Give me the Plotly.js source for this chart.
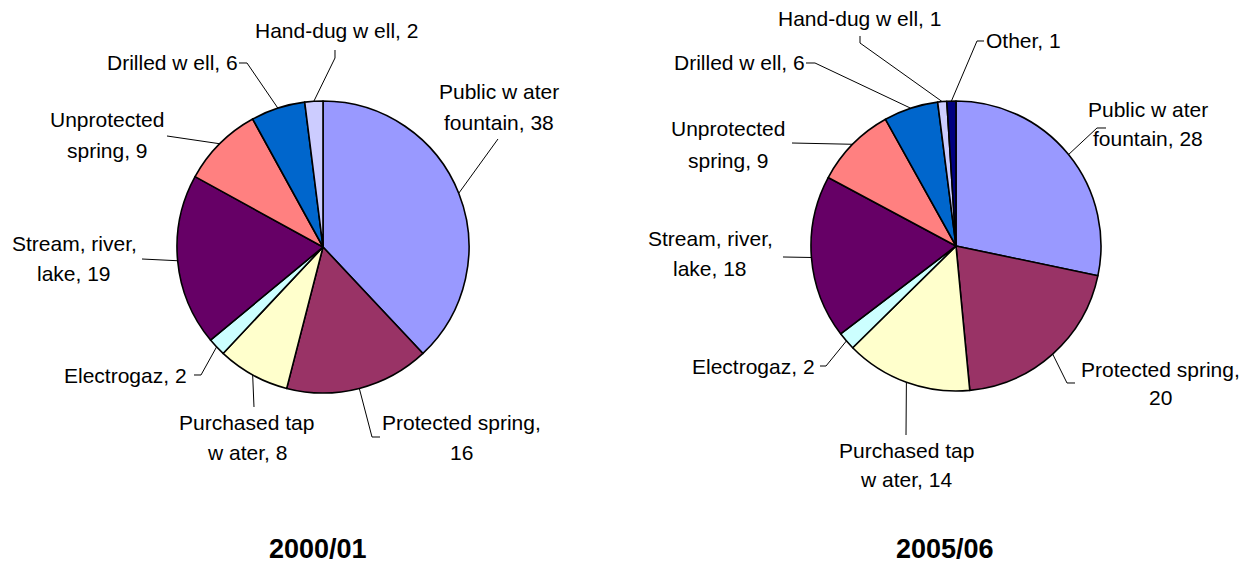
<!DOCTYPE html>
<html>
<head>
<meta charset="utf-8">
<script src="https://cdn.plot.ly/plotly-3.0.1.min.js"></script>
<style>html,body{margin:0;padding:0;background:#fff;}#chart{width:1244px;height:563px;}</style>
</head>
<body>
<div id="chart"></div>
<script>
// ---- data ----
const categories2000 = ["Public water fountain","Protected spring","Purchased tap water","Electrogaz","Stream, river, lake","Unprotected spring","Drilled well","Hand-dug well"];
const values2000 = [38,16,8,2,19,9,6,2];
const categories2005 = ["Public water fountain","Protected spring","Purchased tap water","Electrogaz","Stream, river, lake","Unprotected spring","Drilled well","Hand-dug well","Other"];
const values2005 = [28,20,14,2,18,9,6,1,1];
const pieTitles = ["2000/01","2005/06"];
// label text as displayed ({v} = value)
const labelText = {
  "Public water fountain": ["Public w ater","fountain, {v}"],
  "Protected spring": ["Protected spring,","{v}"],
  "Purchased tap water": ["Purchased tap","w ater, {v}"],
  "Electrogaz": ["Electrogaz, {v}"],
  "Stream, river, lake": ["Stream, river,","lake, {v}"],
  "Unprotected spring": ["Unprotected","spring, {v}"],
  "Drilled well": ["Drilled w ell, {v}"],
  "Hand-dug well": ["Hand-dug w ell, {v}"],
  "Other": ["Other, {v}"]
};

// ---- styles / layout ----
const W = 1244, H = 563;
const colorMap = {
  "Public water fountain":"#9999FF","Protected spring":"#993366","Purchased tap water":"#FFFFCC",
  "Electrogaz":"#CCFFFF","Stream, river, lake":"#660066","Unprotected spring":"#FF8080",
  "Drilled well":"#0066CC","Hand-dug well":"#CCCCFF","Other":"#000080"
};
const FONT = '"Liberation Sans", Arial, sans-serif';
const pies = [
  {cats: categories2000, vals: values2000, cx: 323, cy: 247, r: 146, title: {x: 318, y: 549},
   pos: {
    "Public water fountain": {x:499, y:[91,123], lead:[[498,139]]},
    "Protected spring": {x:461, y:[422,452], lead:[[380,437],[372,437]]},
    "Purchased tap water": {x:247, y:[422,452], lead:[[254,407]]},
    "Electrogaz": {x:125, y:[375], lead:[[194,375],[201,375]]},
    "Stream, river, lake": {x:74, y:[243,273], lead:[[142,259]]},
    "Unprotected spring": {x:107, y:[120,150], lead:[[167,136]]},
    "Drilled well": {x:172, y:[63], lead:[[239,63],[247,63]]},
    "Hand-dug well": {x:336, y:[30], lead:[[335,50],[335,58]]}
   }},
  {cats: categories2005, vals: values2005, cx: 956, cy: 246, r: 145, title: {x: 945, y: 549},
   pos: {
    "Public water fountain": {x:1148, y:[109,139], lead:[[1106,128],[1097,128]]},
    "Protected spring": {x:1160, y:[369,397], lead:[[1075,383],[1067,383]]},
    "Purchased tap water": {x:906, y:[450,480], lead:[[906,435]]},
    "Electrogaz": {x:753, y:[366], lead:[[820,366],[826,366]]},
    "Stream, river, lake": {x:710, y:[238,268], lead:[[783,257]]},
    "Unprotected spring": {x:728, y:[129,160], lead:[[792,143]]},
    "Drilled well": {x:739, y:[63], lead:[[806,63],[815,63]]},
    "Hand-dug well": {x:859, y:[19], lead:[[860,36],[860,43]]},
    "Other": {x:1023, y:[41], lead:[[984,41],[977,41]]}
   }}
];

const px = x => x / W;
const py = y => 1 - y / H;

const traces = [], annotations = [], shapes = [];
pies.forEach((p, i) => {
  traces.push({
    type: 'pie', values: p.vals, labels: p.cats, sort: false, direction: 'clockwise', rotation: 0,
    textinfo: 'none', hoverinfo: 'label+value', showlegend: false,
    marker: {colors: p.cats.map(c => colorMap[c]), line: {color: '#000', width: 1.6}},
    domain: {x: [px(p.cx - p.r), px(p.cx + p.r)], y: [py(p.cy + p.r), py(p.cy - p.r)]}
  });
  const total = p.vals.reduce((a, b) => a + b, 0);
  let cum = 0;
  p.cats.forEach((c, k) => {
    const v = p.vals[k];
    const mid = (cum + v / 2) / total * 2 * Math.PI;
    cum += v;
    const ex = p.cx + p.r * Math.sin(mid), ey = p.cy - p.r * Math.cos(mid);
    const L = p.pos[c];
    labelText[c].forEach((t, j) => {
      annotations.push({
        xref: 'paper', yref: 'paper', x: px(L.x), y: py(L.y[j]), xanchor: 'center', yanchor: 'middle',
        text: t.replace('{v}', v), showarrow: false, font: {family: FONT, size: 21, color: '#000'}
      });
    });
    const pts = L.lead.concat([[ex, ey]]);
    const path = pts.map((q, n) => (n ? 'L' : 'M') + px(q[0]).toFixed(5) + ',' + py(q[1]).toFixed(5)).join(' ');
    shapes.push({type: 'path', xref: 'paper', yref: 'paper', path: path, line: {color: '#000', width: 1}});
  });
  annotations.push({
    xref: 'paper', yref: 'paper', x: px(p.title.x), y: py(p.title.y), xanchor: 'center', yanchor: 'middle',
    text: '<b>' + pieTitles[i] + '</b>', showarrow: false, font: {family: FONT, size: 27, color: '#000'}
  });
});

Plotly.newPlot('chart', traces, {
  width: W, height: H, margin: {l: 0, r: 0, t: 0, b: 0},
  paper_bgcolor: '#fff', plot_bgcolor: '#fff',
  annotations: annotations, shapes: shapes
}, {displayModeBar: false, staticPlot: true});
</script>
</body>
</html>
